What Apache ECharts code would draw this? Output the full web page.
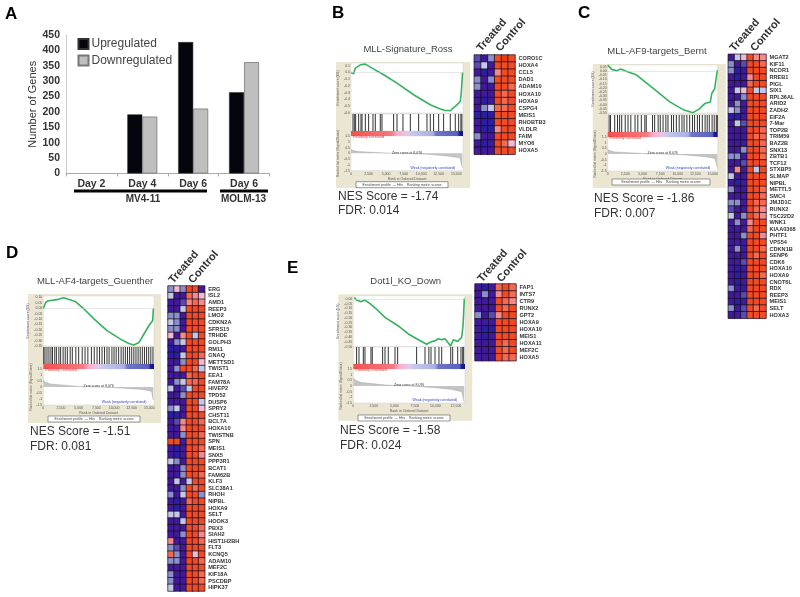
<!DOCTYPE html>
<html>
<head>
    <meta charset="utf-8">
    <title>Gene expression and GSEA panels</title>
    <script src="https://cdn.jsdelivr.net/npm/echarts@6/dist/echarts.min.js"></script>
    <style>
        html, body { margin: 0; padding: 0; background: #fff; }
        #main { width: 800px; height: 597px; }
    </style>
</head>
<body>
<div id="main"></div>
<script type="text/javascript">
    // panel A
    var dayLabels = ['Day 2', 'Day 4', 'Day 6', 'Day 6'];
    var upregulated = [null, 192, 427, 264];
    var downregulated = [null, 185, 211, 362];

    // GSEA running enrichment score, [rank, score]
    var curveB = [[0, 0], [380, -0.02], [620, 0.065], [1330, 0.113], [2040, 0.123], [2990, 0.064], [4650, -0.034], [6550, -0.158], [8920, -0.33], [11290, -0.478], [12720, -0.542], [13300, -0.56], [14140, -0.567], [14500, -0.53], [14850, -0.502], [15560, -0.43], [15700, -0.305], [15890, 0]];
    var curveC = [[0, 0.07], [570, 0.02], [1280, 0.004], [1850, 0.024], [2470, 0.004], [4130, -0.048], [6500, -0.208], [8870, -0.368], [10770, -0.46], [12190, -0.496], [13140, -0.448], [13850, -0.388], [14650, -0.368], [14850, -0.268], [15280, -0.208], [15510, -0.068], [15660, 0.012]];
    var curveD = [[0, -0.003], [330, 0.053], [710, 0.069], [1420, 0.075], [2130, 0.082], [2850, 0.097], [3560, 0.082], [4510, 0.063], [5690, -0.003], [7120, -0.097], [9010, -0.208], [10910, -0.286], [12100, -0.327], [12810, -0.34], [13520, -0.318], [14230, -0.239], [14950, -0.16], [15470, -0.113], [15560, -0.003]];
    var curveE = [[120, 0.014], [410, -0.014], [610, -0.004], [930, -0.032], [1420, -0.014], [2030, -0.05], [2640, -0.094], [3860, -0.194], [5480, -0.284], [6700, -0.367], [7710, -0.417], [8930, -0.475], [9540, -0.446], [9950, -0.439], [10350, -0.417], [10760, -0.428], [11170, -0.417], [11860, -0.493], [12180, -0.428], [12710, -0.446], [13190, -0.403], [13360, -0.284], [13520, 0.004]];

    // hit positions along the ranked list
    var hitsB = [280, 470, 660, 1090, 1420, 1570, 2040, 2510, 3130, 3460, 4170, 4410, 6070, 6550, 7400, 8450, 9630, 10820, 11290, 11760, 12480, 13190, 14140, 14850, 15330, 15650, 15790];
    var hitsC = [200, 400, 1000, 1400, 1700, 2000, 2500, 2900, 3300, 3900, 4300, 4800, 5300, 5500, 6400, 6700, 7200, 7500, 7900, 8300, 8600, 9100, 9400, 9800, 10200, 10600, 10900, 11300, 11700, 12100, 12400, 12800, 13100, 13500, 13900, 14200, 14500, 14900, 15200, 15500, 15650];
    var hitsD = [60, 240, 520, 800, 1080, 1300, 1620, 1850, 2200, 2450, 2800, 3100, 3400, 3800, 4100, 4600, 5000, 5500, 5900, 6300, 6800, 7200, 7600, 7950, 8300, 8650, 9000, 9300, 9700, 10000, 10300, 10650, 11000, 11300, 11600, 11900, 12200, 12500, 12800, 13100, 13400, 13700, 14000, 14300, 14600, 14900, 15200, 15500];
    var hitsE = [400, 690, 1220, 1420, 2150, 2310, 3570, 3860, 4260, 5080, 5400, 7710, 8730, 9200, 9460, 9950, 10430, 10760, 11860, 12100, 12710, 13110, 13320, 13440];

    // ranked list metric, [rank, metric]
    var metricB = [[0, 0.35], [300, 0.25], [1000, 0.15], [5000, 0.03], [8000, 0], [11000, -0.08], [14000, -0.25], [15500, -0.38], [15850, -1.25]];
    var metricC = [[0, 0.4], [300, 0.3], [1000, 0.18], [5000, 0.04], [8000, 0], [11000, -0.08], [14000, -0.25], [15300, -0.4], [15650, -1.2]];
    var metricD = [[0, 0.6], [300, 0.4], [1000, 0.25], [5000, 0.05], [8000, 0], [11000, -0.08], [14000, -0.2], [15300, -0.35], [15550, -1.1]];
    var metricE = [[0, 0.7], [300, 0.5], [1000, 0.3], [4000, 0.08], [7000, 0], [10000, -0.15], [12000, -0.3], [13200, -0.5], [13500, -1.4]];

    // heatmap genes and levels (0 deep blue .. 9 deep red), treated x3 then control x3
    var genesB = ['CORO1C', 'HOXA4', 'CCL5', 'DAD1', 'ADAM10', 'HOXA10', 'HOXA9', 'CSPG4', 'MEIS1', 'RHOBTB3', 'VLDLR', 'FAIM', 'MYO6', 'HOXA5'];
    var heatB = [[2, 1, 3, 8, 9, 8], [2, 4, 1, 8, 8, 8], [1, 0, 1, 6, 8, 8], [3, 1, 3, 8, 8, 8], [3, 1, 1, 8, 8, 7], [1, 1, 1, 8, 7, 8], [1, 0, 1, 8, 7, 8], [1, 3, 4, 7, 7, 8], [0, 0, 0, 8, 8, 8], [1, 0, 0, 8, 8, 8], [1, 0, 0, 6, 8, 8], [3, 1, 1, 8, 8, 8], [1, 0, 1, 8, 7, 5], [1, 1, 1, 8, 8, 8]];

    var genesC = ['MGAT2', 'KIF11', 'NCOR1', 'RREB1', 'PIGL', 'SIX1', 'RPL36AL', 'ARID2', 'ZADH2', 'EIF2A', '7-Mar', 'TOP2B', 'TRIM59', 'BAZ2B', 'SNX13', 'ZBTB1', 'TCF12', 'STXBP5', 'SLMAP', 'NIPBL', 'METTL5', 'SMC4', 'JMJD1C', 'RUNX2', 'TSC22D2', 'WNK1', 'KIAA0368', 'PHTF1', 'VPS54', 'CDKN1B', 'SENP6', 'CDK6', 'HOXA10', 'HOXA9', 'CNOT6L', 'RDX', 'REEP3', 'MEIS1', 'SELT', 'HOXA3'];
    var heatC = [[1, 4, 5, 8, 6, 6], [3, 1, 2, 8, 8, 7], [3, 0, 1, 8, 8, 8], [1, 0, 1, 6, 8, 8], [1, 1, 1, 7, 8, 8], [1, 4, 5, 8, 4, 4], [1, 1, 3, 8, 8, 8], [1, 3, 1, 8, 8, 8], [4, 3, 1, 8, 8, 8], [0, 0, 1, 8, 8, 8], [1, 4, 2, 8, 8, 8], [1, 1, 1, 8, 8, 7], [1, 1, 1, 8, 7, 7], [1, 1, 1, 8, 8, 7], [1, 1, 3, 8, 8, 7], [3, 3, 1, 8, 8, 7], [1, 1, 2, 8, 8, 8], [1, 6, 1, 8, 4, 8], [4, 1, 1, 8, 8, 8], [1, 0, 1, 8, 8, 8], [3, 1, 1, 8, 8, 7], [1, 1, 1, 8, 8, 7], [3, 3, 1, 8, 7, 7], [2, 1, 1, 8, 7, 6], [4, 1, 3, 8, 7, 6], [1, 3, 1, 6, 8, 8], [1, 1, 1, 7, 8, 8], [1, 1, 3, 8, 8, 6], [1, 1, 1, 8, 8, 8], [1, 3, 1, 8, 8, 7], [1, 1, 1, 8, 7, 8], [1, 1, 2, 8, 8, 8], [1, 0, 1, 8, 8, 8], [1, 0, 1, 8, 8, 7], [1, 0, 1, 8, 8, 8], [3, 1, 1, 8, 8, 8], [1, 1, 2, 8, 8, 8], [1, 0, 1, 8, 8, 8], [3, 1, 2, 8, 7, 8], [1, 1, 2, 8, 8, 8]];

    var genesD = ['ERG', 'ISL2', 'AMD1', 'REEP3', 'LMO2', 'CDKN2A', 'SFRS15', 'TRHDE', 'GOLPH3', 'RM11', 'GNAQ', 'METTSD1', 'TWIST1', 'EEA1', 'FAM78A', 'HIVEP2', 'TPD52', 'DUSP6', 'SPRY2', 'CHST11', 'BCL7A', 'HOXA10', 'TWISTNB', 'SPN', 'MEIS1', 'SNX5', 'PPP3R1', 'BCAT1', 'FAM62B', 'KLF3', 'SLC38A1', 'RHOH', 'NIPBL', 'HOXA9', 'SELT', 'HOOK3', 'PBX3', 'SIAH2', 'HIST1H2BH', 'FLT3', 'KCNQ5', 'ADAM10', 'MEF2C', 'KIF18A', 'PSCDBP', 'HIPK37'];
    var heatD = [[3, 5, 3, 8, 8, 1], [4, 1, 1, 7, 6, 5], [1, 1, 2, 6, 7, 6], [1, 1, 4, 8, 8, 8], [3, 3, 1, 8, 8, 8], [4, 3, 1, 8, 8, 8], [3, 3, 1, 8, 8, 8], [5, 1, 6, 8, 4, 8], [1, 3, 4, 8, 8, 8], [0, 0, 1, 8, 8, 8], [0, 0, 4, 8, 8, 7], [1, 1, 3, 8, 8, 5], [1, 3, 8, 8, 7, 4], [1, 1, 1, 7, 8, 8], [1, 3, 4, 7, 7, 8], [4, 1, 2, 4, 8, 8], [1, 1, 3, 8, 8, 8], [1, 1, 1, 8, 8, 4], [3, 4, 1, 8, 8, 5], [0, 0, 1, 8, 8, 8], [1, 2, 6, 8, 8, 7], [1, 1, 6, 8, 8, 8], [1, 1, 3, 8, 8, 7], [8, 8, 1, 8, 8, 8], [1, 0, 1, 8, 8, 7], [1, 0, 1, 8, 8, 6], [4, 3, 1, 8, 8, 8], [1, 1, 3, 8, 8, 8], [1, 1, 3, 8, 8, 7], [1, 4, 1, 4, 8, 8], [1, 1, 3, 8, 7, 8], [3, 1, 4, 8, 8, 3], [1, 0, 1, 7, 8, 8], [1, 0, 1, 8, 8, 8], [4, 4, 1, 8, 8, 8], [1, 1, 4, 8, 8, 8], [1, 1, 1, 8, 8, 7], [1, 1, 3, 8, 8, 6], [6, 1, 1, 8, 8, 7], [3, 2, 1, 8, 8, 8], [7, 3, 1, 8, 5, 8], [3, 3, 1, 8, 8, 7], [1, 1, 1, 8, 8, 8], [3, 1, 1, 8, 8, 7], [3, 1, 1, 8, 8, 7], [4, 1, 1, 8, 8, 8]];

    var genesE = ['FAP1', 'INTS7', 'CTR9', 'RUNX2', 'GPT2', 'HOXA9', 'HOXA10', 'MEIS1', 'HOXA11', 'MEF2C', 'HOXA5'];
    var heatE = [[1, 0, 1, 7, 8, 7], [1, 3, 1, 6, 8, 7], [1, 1, 1, 8, 7, 6], [1, 1, 1, 8, 7, 8], [3, 1, 2, 6, 8, 8], [1, 1, 1, 8, 8, 8], [1, 0, 0, 8, 8, 8], [1, 0, 1, 8, 8, 8], [1, 1, 1, 8, 7, 8], [1, 1, 1, 8, 7, 8], [1, 1, 1, 8, 7, 7]];

    var heatColors = ['#2a1fa2', '#401a9a', '#5a4bb2', '#8a90cc', '#c4c8e8', '#f4b8d0', '#f58a8a', '#f46a4e', '#f24a22', '#ee3a10'];
    var sampleCols = ['T1', 'T2', 'T3', 'C1', 'C2', 'C3'];
    var labelFont = 'Liberation Sans';

    var panels = [
        {
            title: 'MLL-Signature_Ross', nes: 'NES Score = -1.74', fdr: 'FDR: 0.014', letter: 'B', letterAt: [332, 5],
            curve: curveB, hits: hitsB, metric: metricB, genes: genesB, heat: heatB,
            xMax: 15950, yMin: -0.6, yMax: 0.14, yStep: 0.1, digits: 1,
            box: [336, 62, 134, 126], px: [351, 463], ys: [63, 113, 114, 131, 136, 170.7], legend: [356, 181.7, 92, 6],
            titleAt: [408, 49], nesAt: [338, 197], fdrAt: [338, 211],
            heatBox: [474.3, 55, 40.7, 99.3], headAt: [[479, 50], [498, 50]]
        },
        {
            title: 'MLL-AF9-targets_Bernt', nes: 'NES Score = -1.86', fdr: 'FDR: 0.007', letter: 'C', letterAt: [578, 5],
            curve: curveC, hits: hitsC, metric: metricC, genes: genesC, heat: heatC,
            xMax: 15700, yMin: -0.5, yMax: 0.072, yStep: 0.05, digits: 2,
            box: [592.7, 64, 133, 124], px: [607.7, 717.7], ys: [65, 113, 115, 132, 137, 171], legend: [612, 179, 98, 6],
            titleAt: [657, 51], nesAt: [594, 199], fdrAt: [594, 214],
            heatBox: [728.3, 54.3, 37.7, 264], headAt: [[732, 50], [752.7, 50]]
        },
        {
            title: 'MLL-AF4-targets_Guenther', nes: 'NES Score = -1.51', fdr: 'FDR: 0.081', letter: 'D', letterAt: [6, 245],
            curve: curveD, hits: hitsD, metric: metricD, genes: genesD, heat: heatD,
            xMax: 15650, yMin: -0.35, yMax: 0.113, yStep: 0.05, digits: 2,
            box: [28, 294, 133, 129], px: [43.3, 154], ys: [296, 346, 347, 364, 369, 405], legend: [48, 416, 92, 6],
            titleAt: [95, 281], nesAt: [30, 432], fdrAt: [30, 447],
            heatBox: [168, 286, 36.7, 305], headAt: [[171, 282], [190.7, 282]]
        },
        {
            title: 'Dot1l_KO_Down', nes: 'NES Score = -1.58', fdr: 'FDR: 0.024', letter: 'E', letterAt: [287, 260],
            curve: curveE, hits: hitsE, metric: metricE, genes: genesE, heat: heatE,
            xMax: 13600, yMin: -0.5, yMax: 0.032, yStep: 0.05, digits: 2,
            box: [338.3, 294.3, 134, 126.4], px: [353.3, 465], ys: [295.7, 346.7, 347, 364, 369, 403], legend: [358, 415, 92, 6],
            titleAt: [405.7, 281], nesAt: [340, 431], fdrAt: [340, 446],
            heatBox: [475, 284, 41, 76.7], headAt: [[480, 280.7], [499.3, 280.7]]
        }
    ];

    var grids = [], xAxes = [], yAxes = [], series = [], graphics = [];
    var heatSeriesIdx = [];

    function addText(text, x, y, font, fill, extra) {
        var style = {text: text, font: font, fill: fill, textVerticalAlign: 'middle'};
        var el = {type: 'text', x: x, y: y, silent: true, z: 5, style: style};
        if (extra) {
            if (extra.rotation) el.rotation = extra.rotation;
            if (extra.align) style.textAlign = extra.align;
        }
        graphics.push(el);
    }

    function addGrid(left, top, width, height, bg) {
        grids.push({
            left: left, top: top, width: width, height: height,
            show: !!bg, backgroundColor: bg || 'transparent', borderColor: '#d0d0d0', borderWidth: 0.5
        });
        return grids.length - 1;
    }

    function tinyAxis(gridIndex, extra) {
        var base = {
            gridIndex: gridIndex, type: 'value', splitLine: {show: false},
            axisLine: {show: false}, axisTick: {show: false}, axisLabel: {show: false}
        };
        for (var k in extra) base[k] = extra[k];
        return base;
    }

    function addGsea(p) {
        var w = p.px[1] - p.px[0];
        var ys = p.ys;

        graphics.push({type: 'rect', z: -10, silent: true, shape: {x: p.box[0], y: p.box[1], width: p.box[2], height: p.box[3]}, style: {fill: '#ebe6d2'}});
        graphics.push({type: 'rect', z: 5, silent: true, shape: {x: p.legend[0], y: p.legend[1], width: p.legend[2], height: p.legend[3]}, style: {fill: '#fff', stroke: '#555', lineWidth: 0.6}});
        addText('Enrichment profile  \u2014 Hits    Ranking metric scores', p.legend[0] + p.legend[2] / 2, p.legend[1] + 3, '3.5px ' + labelFont, '#444', {align: 'center'});

        // enrichment score curve
        var g = addGrid(p.px[0], ys[0], w, ys[1] - ys[0], '#fff');
        xAxes.push(tinyAxis(g, {min: 0, max: p.xMax}));
        yAxes.push(tinyAxis(g, {
            min: p.yMin, max: p.yMax, interval: p.yStep,
            name: 'Enrichment score (ES)', nameLocation: 'middle', nameGap: 8,
            nameTextStyle: {fontSize: 3.5, color: '#555', fontFamily: labelFont},
            axisLabel: {
                show: true, fontSize: 3.5, color: '#555', margin: 1, showMaxLabel: false, fontFamily: labelFont,
                formatter: function (v) { return v.toFixed(p.digits); }
            }
        }));
        series.push({
            type: 'line', xAxisIndex: xAxes.length - 1, yAxisIndex: yAxes.length - 1,
            data: p.curve, showSymbol: false, silent: true, animation: false,
            lineStyle: {color: '#35b25c', width: 1.6},
            markLine: {silent: true, symbol: 'none', label: {show: false}, lineStyle: {color: '#ccc', width: 0.5, type: 'solid'}, data: [{yAxis: 0}]}
        });

        // hit ticks
        g = addGrid(p.px[0], ys[2], w, ys[3] - ys[2], '#fff');
        xAxes.push(tinyAxis(g, {min: 0, max: p.xMax}));
        yAxes.push(tinyAxis(g, {min: 0, max: 1}));
        series.push({
            type: 'bar', xAxisIndex: xAxes.length - 1, yAxisIndex: yAxes.length - 1,
            data: p.hits.map(function (h) { return [h, 1]; }),
            barWidth: 0.8, silent: true, animation: false, itemStyle: {color: '#333'}
        });

        // correlation band
        g = addGrid(p.px[0], ys[3], w, ys[4] - ys[3]);
        xAxes.push(tinyAxis(g, {min: 0, max: p.xMax}));
        yAxes.push(tinyAxis(g, {min: 0, max: 1}));
        series.push({
            type: 'custom', xAxisIndex: xAxes.length - 1, yAxisIndex: yAxes.length - 1,
            data: [[0, p.xMax]], silent: true, animation: false,
            renderItem: function (params, api) {
                var a = api.coord([api.value(0), 1]);
                var b = api.coord([api.value(1), 0]);
                return {
                    type: 'rect',
                    shape: {x: a[0], y: a[1], width: b[0] - a[0], height: b[1] - a[1]},
                    style: {
                        fill: new echarts.graphic.LinearGradient(0, 0, 1, 0, [
                            {offset: 0, color: '#f4504c'}, {offset: 0.36, color: '#f57a80'},
                            {offset: 0.41, color: '#f7aecb'}, {offset: 0.5, color: '#e8c8e4'},
                            {offset: 0.53, color: '#c7caec'}, {offset: 0.73, color: '#aab0e0'},
                            {offset: 0.76, color: '#6f76c8'}, {offset: 0.95, color: '#5a60bf'},
                            {offset: 0.97, color: '#1c1c90'}, {offset: 1, color: '#14147e'}
                        ])
                    }
                };
            }
        });

        // ranked metric
        g = addGrid(p.px[0], ys[4], w, ys[5] - ys[4], '#fff');
        xAxes.push(tinyAxis(g, {
            min: 0, max: p.xMax, interval: 2500,
            name: 'Rank in Ordered Dataset', nameLocation: 'middle', nameGap: 6,
            nameTextStyle: {fontSize: 3.5, color: '#555', fontFamily: labelFont},
            axisLabel: {
                show: true, fontSize: 3.5, color: '#555', margin: 1.5, fontFamily: labelFont,
                formatter: function (v) { return v.toLocaleString('en-US'); }
            }
        }));
        yAxes.push(tinyAxis(g, {
            min: -1.5, max: 1.5, interval: 0.5,
            name: 'Ranked list metric (Signal2Noise)', nameLocation: 'middle', nameGap: 8,
            nameTextStyle: {fontSize: 3.2, color: '#555', fontFamily: labelFont},
            axisLabel: {show: true, fontSize: 3.5, color: '#555', margin: 1, fontFamily: labelFont}
        }));
        series.push({
            type: 'line', xAxisIndex: xAxes.length - 1, yAxisIndex: yAxes.length - 1,
            data: p.metric, showSymbol: false, silent: true, animation: false,
            lineStyle: {color: '#aaa', width: 0.5}, areaStyle: {color: '#c4c4c4', opacity: 1, origin: 0}
        });

        addText('Positively correlated', p.px[0] + 2, ys[4] + 1.5, '3.5px ' + labelFont, '#e03030');
        addText('Zero cross at 8,076', p.px[0] + w * 0.5, ys[4] + (ys[5] - ys[4]) * 0.48, '3.5px ' + labelFont, '#333', {align: 'center'});
        addText('Weak (negatively correlated)', p.px[0] + w * 0.73, ys[5] - 3, '3.5px ' + labelFont, '#3040c0', {align: 'center'});

        // texts round the plot
        addText(p.title, p.titleAt[0], p.titleAt[1], '9.5px ' + labelFont, '#444', {align: 'center'});
        addText(p.nes, p.nesAt[0], p.nesAt[1], '12px ' + labelFont, '#333');
        addText(p.fdr, p.nesAt[0], p.fdrAt[1], '12px ' + labelFont, '#333');
        addText(p.letter, p.letterAt[0], p.letterAt[1] + 8, 'bold 17px ' + labelFont, '#000');
    }

    function addHeat(p) {
        var b = p.heatBox;
        var g = addGrid(b[0], b[1], b[2], b[3]);
        xAxes.push({gridIndex: g, type: 'category', data: sampleCols, show: false});
        yAxes.push({
            gridIndex: g, type: 'category', data: p.genes, inverse: true, position: 'right',
            axisLine: {show: false}, axisTick: {show: false},
            axisLabel: {fontSize: 5.6, fontWeight: 'bold', color: '#333', margin: 3.5, interval: 0, fontFamily: labelFont}
        });
        var cells = [];
        p.heat.forEach(function (row, r) {
            row.forEach(function (v, c) { cells.push([c, r, v]); });
        });
        series.push({
            type: 'heatmap', xAxisIndex: xAxes.length - 1, yAxisIndex: yAxes.length - 1,
            data: cells, silent: true, animation: false, progressive: 0,
            itemStyle: {borderColor: '#140a1c', borderWidth: 0.7}
        });
        heatSeriesIdx.push(series.length - 1);

        var rot = 49 * Math.PI / 180;
        addText('Treated', p.headAt[0][0], p.headAt[0][1], 'bold 11px ' + labelFont, '#333', {rotation: rot});
        addText('Control', p.headAt[1][0], p.headAt[1][1], 'bold 11px ' + labelFont, '#333', {rotation: rot});
    }

    // panel A bar chart
    var gA = addGrid(66, 35, 203.5, 138.5);
    xAxes.push({
        gridIndex: gA, type: 'category', data: dayLabels,
        axisLine: {lineStyle: {color: '#aaa', width: 1}},
        axisTick: {show: true, length: 3, lineStyle: {color: '#aaa'}},
        axisLabel: {fontSize: 10.5, fontWeight: 'bold', color: '#333', margin: 5, interval: 0, fontFamily: labelFont}
    });
    yAxes.push({
        gridIndex: gA, type: 'value', min: 0, max: 450, interval: 50,
        name: 'Number of Genes', nameLocation: 'middle', nameGap: 28,
        nameTextStyle: {fontSize: 11, color: '#333', fontFamily: labelFont},
        axisLine: {show: true, lineStyle: {color: '#ccc'}},
        axisTick: {show: false}, splitLine: {show: false},
        axisLabel: {fontSize: 10.5, fontWeight: 'bold', color: '#333', margin: 6, fontFamily: labelFont}
    });
    series.push({
        name: 'Upregulated', type: 'bar', xAxisIndex: 0, yAxisIndex: 0, data: upregulated,
        barWidth: 15, barGap: 0, silent: true, animation: false,
        itemStyle: {color: '#05050e', borderColor: '#333', borderWidth: 0.5}
    });
    series.push({
        name: 'Downregulated', type: 'bar', xAxisIndex: 0, yAxisIndex: 0, data: downregulated,
        barWidth: 15, barGap: 0, silent: true, animation: false,
        itemStyle: {color: '#bfbfbf', borderColor: '#777', borderWidth: 0.8}
    });

    addText('A', 5, 14, 'bold 17px ' + labelFont, '#000');
    graphics.push({type: 'rect', silent: true, shape: {x: 74, y: 189.5, width: 133, height: 3}, style: {fill: '#000'}});
    graphics.push({type: 'rect', silent: true, shape: {x: 220, y: 189.5, width: 48, height: 3}, style: {fill: '#000'}});
    addText('MV4-11', 143, 199, 'bold 10px ' + labelFont, '#333', {align: 'center'});
    addText('MOLM-13', 243.5, 199, 'bold 10px ' + labelFont, '#333', {align: 'center'});

    panels.forEach(function (p) {
        addGsea(p);
        addHeat(p);
    });

    var myChart = echarts.init(document.getElementById('main'), null, {renderer: 'canvas'});
    myChart.setOption({
        backgroundColor: '#fff',
        animation: false,
        textStyle: {fontFamily: labelFont},
        legend: {
            data: ['Upregulated', 'Downregulated'], orient: 'vertical', left: 72.5, top: 33,
            icon: 'rect', itemWidth: 10, itemHeight: 10, itemGap: 4.5, selectedMode: false,
            textStyle: {fontSize: 12, color: '#444', fontFamily: labelFont, padding: [0, 0, 0, -2]}
        },
        grid: grids,
        xAxis: xAxes,
        yAxis: yAxes,
        visualMap: {
            show: false, type: 'continuous', min: 0, max: 9, dimension: 2,
            seriesIndex: heatSeriesIdx, inRange: {color: heatColors}
        },
        series: series,
        graphic: {elements: graphics}
    });
</script>
</body>
</html>
